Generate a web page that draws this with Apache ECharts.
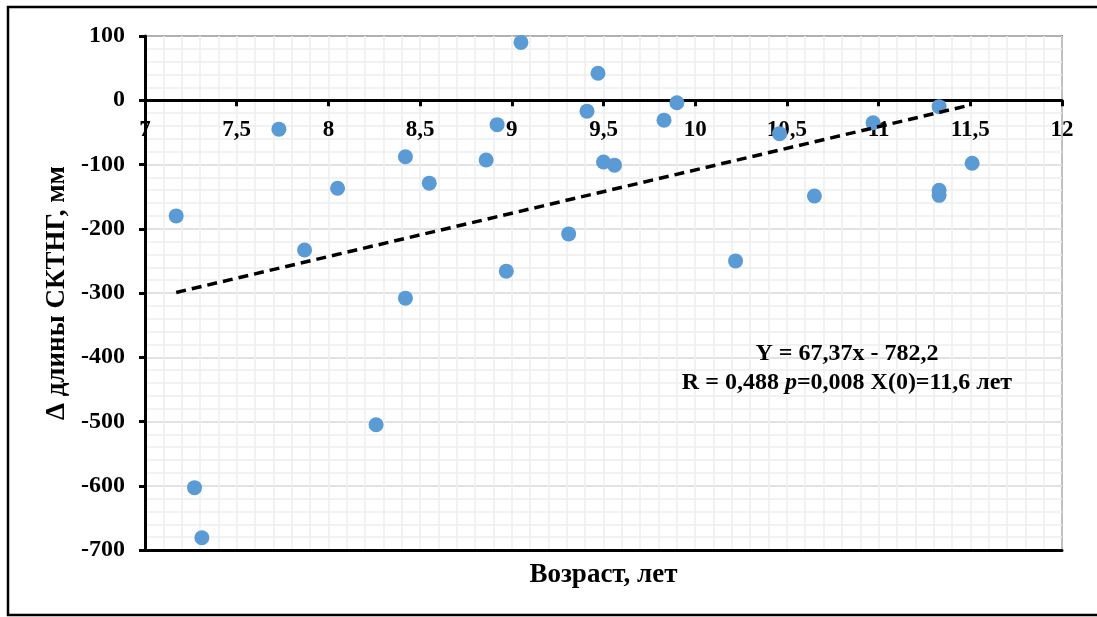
<!DOCTYPE html>
<html>
<head>
<meta charset="utf-8">
<script src="https://cdn.jsdelivr.net/npm/echarts@6/dist/echarts.min.js"></script>
<style>
    html, body { margin: 0; padding: 0; background: #fff; }
    #chart { width: 1097px; height: 617px; }
</style>
</head>
<body>
<div id="chart"></div>
<script>
// age, years
var ages = [7.17, 7.27, 7.31, 7.73, 7.87, 8.05, 8.26, 8.42, 8.42, 8.55,
    8.86, 8.92, 8.97, 9.05, 9.31, 9.41, 9.47, 9.50, 9.56, 9.83,
    9.90, 10.22, 10.46, 10.65, 10.97, 11.33, 11.33, 11.33, 11.51];
// delta length, mm
var deltas = [-180, -603, -681, -45, -233, -137, -505, -88, -308, -129,
    -93, -38, -266, 90, -208, -17, 42, -96, -101, -31,
    -4, -250, -52, -149, -35, -10, -140, -148, -98];

// linear trend Y = 67,37x - 782,2
var trendSlope = 67.37;
var trendIntercept = -782.2;
var trendRange = [7.17, 11.5];

var font = '"Liberation Serif", "Times New Roman", serif';

function commaLabel(v) {
    return String(v).replace('.', ',');
}

function getScatterData() {
    var data = [];
    ages.forEach(function(age, i) {
        data.push([age, deltas[i]]);
    });
    return data;
}

function getTrendData() {
    var data = [];
    trendRange.forEach(function(x) {
        data.push([x, trendSlope * x + trendIntercept]);
    });
    return data;
}

var chart = echarts.init(document.getElementById('chart'));

// second grid ends exactly at y = 0 of the main grid, it carries the crossing x axis
option = {
    backgroundColor: '#fff',
    animation: false,
    grid: [{
        left: 145, right: 35, top: 36, bottom: 67,
        show: true,
        borderColor: '#000',
        borderWidth: 1.5
    }, {
        left: 145, right: 35, top: 36, bottom: 617 - 100.25,
        show: false
    }],
    title: {
        left: 842,
        top: 334,
        textAlign: 'center',
        text: '{b|Y = 67,37x - 782,2}\n{b|R = 0,488 }{i|p}{b|=0,008 X(0)=11,6 лет}',
        textStyle: {
            rich: {
                b: { fontFamily: font, fontWeight: 'bold', fontSize: 24, color: '#000', lineHeight: 29 },
                i: { fontFamily: font, fontWeight: 'bold', fontStyle: 'italic', fontSize: 24, color: '#000', lineHeight: 29 }
            }
        }
    },
    graphic: [{
        type: 'rect',
        shape: { x: 8, y: 7, width: 1100, height: 608 },
        style: { fill: 'none', stroke: '#000', lineWidth: 2.5 },
        silent: true
    }],
    xAxis: [{
        type: 'value',
        gridIndex: 0,
        position: 'bottom',
        min: 7,
        max: 12,
        interval: 0.5,
        name: 'Возраст, лет',
        nameLocation: 'middle',
        nameGap: 12,
        nameTextStyle: { color: '#000', fontFamily: font, fontWeight: 'bold', fontSize: 27 },
        axisLine: { onZero: false, lineStyle: { color: '#000', width: 3 } },
        axisTick: { show: false },
        axisLabel: { show: false },
        splitLine: { show: true, lineStyle: { color: '#eeeeee', width: 1.5 } },
        minorTick: { show: false, splitNumber: 5 },
        minorSplitLine: { show: true, lineStyle: { color: '#eeeeee', width: 1.5 } }
    }, {
        type: 'value',
        gridIndex: 1,
        position: 'bottom',
        min: 7,
        max: 12,
        interval: 0.5,
        z: 1,
        axisLine: { onZero: false, lineStyle: { color: '#000', width: 3 } },
        axisTick: { show: true, inside: false, length: 6, lineStyle: { color: '#000', width: 3 } },
        axisLabel: {
            margin: 18,
            color: '#000',
            fontFamily: font,
            fontWeight: 'bold',
            fontSize: 23,
            showMinLabel: true,
            showMaxLabel: true,
            formatter: commaLabel
        },
        splitLine: { show: false }
    }],
    yAxis: [{
        type: 'value',
        gridIndex: 0,
        min: -700,
        max: 100,
        interval: 100,
        name: 'Δ длины СКТНГ, мм',
        nameLocation: 'middle',
        nameGap: 64,
        nameTextStyle: { color: '#000', fontFamily: font, fontWeight: 'bold', fontSize: 27 },
        axisLine: { show: true, onZero: false, lineStyle: { color: '#000', width: 3 } },
        axisTick: { show: true, inside: false, length: 6, lineStyle: { color: '#000', width: 3 } },
        axisLabel: {
            margin: 20,
            color: '#000',
            fontFamily: font,
            fontWeight: 'bold',
            fontSize: 24
        },
        splitLine: { show: true, lineStyle: { color: '#d9d9d9', width: 1.5 } },
        minorTick: { show: false, splitNumber: 5 },
        minorSplitLine: { show: true, lineStyle: { color: '#eeeeee', width: 1.5 } }
    }, {
        type: 'value',
        gridIndex: 1,
        min: 0,
        max: 100,
        show: false
    }],
    series: [{
        name: 'Delta',
        type: 'scatter',
        xAxisIndex: 0,
        yAxisIndex: 0,
        data: getScatterData(),
        symbolSize: 15,
        itemStyle: { color: '#5b9bd5', opacity: 1 },
        z: 5
    }, {
        name: 'Trend',
        type: 'line',
        xAxisIndex: 0,
        yAxisIndex: 0,
        data: getTrendData(),
        showSymbol: false,
        symbol: 'none',
        lineStyle: { color: '#000', width: 3.5, type: [10, 6] },
        z: 6
    }]
};

chart.setOption(option);
</script>
</body>
</html>
